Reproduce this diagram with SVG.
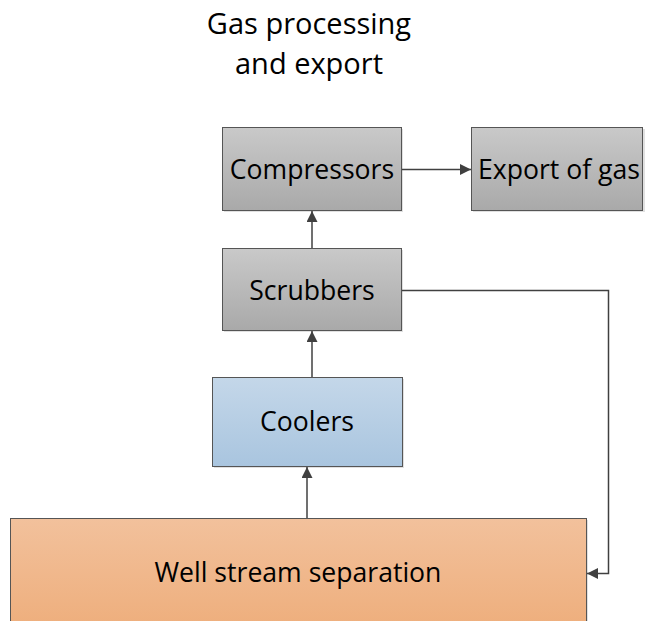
<svg xmlns="http://www.w3.org/2000/svg" width="647" height="621" viewBox="0 0 647 621">
<defs>
<linearGradient id="gGray" x1="0" y1="0" x2="0" y2="1"><stop offset="0" stop-color="#c9c9c9"/><stop offset="1" stop-color="#a9a9a9"/></linearGradient>
<linearGradient id="gBlue" x1="0" y1="0" x2="0" y2="1"><stop offset="0" stop-color="#c4d7e9"/><stop offset="1" stop-color="#a9c5df"/></linearGradient>
<linearGradient id="gOrange" x1="0" y1="0" x2="0" y2="1"><stop offset="0" stop-color="#f2c19c"/><stop offset="1" stop-color="#eeae7c"/></linearGradient>
<marker id="arr" viewBox="0 0 10 10" refX="10" refY="5" markerWidth="11" markerHeight="11" markerUnits="userSpaceOnUse" orient="auto">
<path d="M0,0 L10,5 L0,10 Z" fill="#404040"/>
</marker>
</defs>
<style>
.box{stroke:#555;stroke-width:1}
.sh{fill:#000;opacity:0.12}
.lbl{font-family:"Open Sans","Liberation Sans",sans-serif;font-size:26.6px;fill:#000;text-anchor:middle}
.ttl{font-family:"Open Sans","Liberation Sans",sans-serif;font-size:29px;fill:#000;text-anchor:middle}
.con{fill:none;stroke:#404040;stroke-width:1.5}
</style>
<rect width="647" height="621" fill="#fff"/>
<g id="title">
<text class="ttl" x="309" y="34">Gas processing</text>
<text class="ttl" x="309" y="74">and export</text>
</g>
<g id="compressors">
<rect class="sh" x="224" y="129" width="179" height="83"/>
<rect class="box" x="222.5" y="127.5" width="179" height="83" fill="url(#gGray)"/>
<text class="lbl" x="312" y="179">Compressors</text>
</g>
<g id="export">
<rect class="sh" x="473" y="129" width="172" height="83"/>
<rect class="box" x="471.5" y="127.5" width="171" height="83" fill="url(#gGray)"/>
<text class="lbl" x="559" y="179">Export of gas</text>
</g>
<g id="scrubbers">
<rect class="sh" x="224" y="250" width="179" height="82"/>
<rect class="box" x="222.5" y="248.5" width="179" height="82" fill="url(#gGray)"/>
<text class="lbl" x="312" y="300">Scrubbers</text>
</g>
<g id="coolers">
<rect class="sh" x="214" y="379" width="190" height="89"/>
<rect class="box" x="212.5" y="377.5" width="190" height="89" fill="url(#gBlue)"/>
<text class="lbl" x="307" y="431">Coolers</text>
</g>
<g id="well">
<rect class="sh" x="12" y="520" width="576" height="110"/>
<rect class="box" x="10.5" y="518.5" width="576" height="110" fill="url(#gOrange)"/>
<text class="lbl" x="298" y="582">Well stream separation</text>
</g>
<g id="connectors">
<path class="con" d="M402,169.5 H471" marker-end="url(#arr)"/>
<path class="con" d="M312,248 V211" marker-end="url(#arr)"/>
<path class="con" d="M312,377 V331" marker-end="url(#arr)"/>
<path class="con" d="M307,518 V467" marker-end="url(#arr)"/>
<path class="con" d="M402,290.5 H608.5 V573.5 H587" marker-end="url(#arr)"/>
</g>
</svg>
